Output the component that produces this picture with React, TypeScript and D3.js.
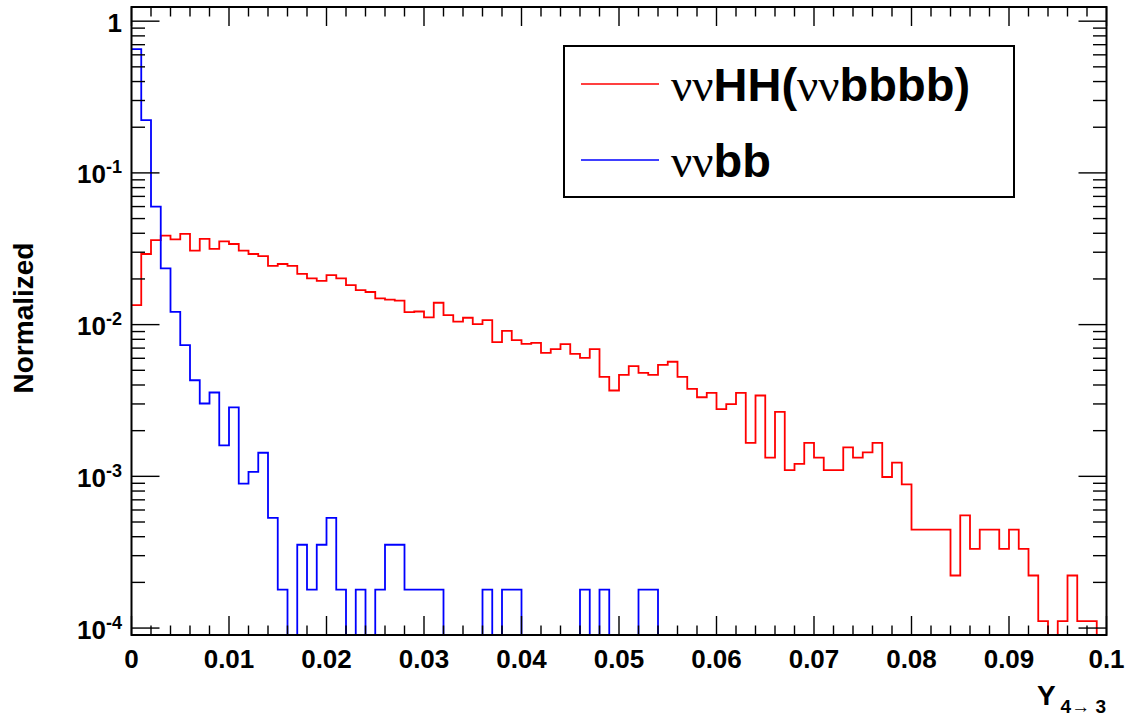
import React, { useEffect, useRef } from "react";
import * as d3 from "d3";

const width = 1133;
const height = 719;

// histogram binning
const nBins = 100;
const xMin = 0;
const xMax = 0.1;

// ννHH(ννbbbb), normalized bin contents
const signal = [
  0.01346, 0.0292, 0.0361, 0.0386, 0.0365, 0.0396, 0.0307, 0.0367, 0.0316, 0.0354,
  0.034, 0.0307, 0.0292, 0.0283, 0.0244, 0.0251, 0.0244, 0.0216, 0.0202, 0.0194,
  0.0212, 0.0202, 0.0182, 0.0169, 0.0164, 0.0149, 0.0146, 0.0144, 0.0121, 0.0122,
  0.01115, 0.01394, 0.01156, 0.01045, 0.0111, 0.01007, 0.0107, 0.00766, 0.0091, 0.0079,
  0.00747, 0.00759, 0.00652, 0.0069, 0.00743, 0.00641, 0.00604, 0.0069, 0.00453, 0.00368,
  0.00467, 0.00532, 0.00481, 0.00467, 0.00543, 0.00569, 0.00453, 0.00377, 0.00332, 0.00355,
  0.00277, 0.00299, 0.00355, 0.00166, 0.00341, 0.00133, 0.00266, 0.0011, 0.00121, 0.00166,
  0.00133, 0.0011, 0.0011, 0.00155, 0.00133, 0.00144, 0.00166, 0.00099, 0.00123, 0.000885,
  0.000445, 0.000445, 0.000445, 0.000445, 0.000222, 0.000553, 0.000333, 0.000445, 0.000445, 0.000333,
  0.000445, 0.000333, 0.000222, 0.000111, 0, 0.000111, 0.000222, 0.000111, 0.000111, 0,
];

// ννbb, normalized bin contents
const background = [
  0.655, 0.223, 0.06, 0.0235, 0.01215, 0.00733, 0.0043, 0.00302, 0.00357, 0.0016,
  0.00285, 0.000895, 0.00107, 0.00143, 0.000533, 0.000179, 0, 0.000354, 0.000179, 0.000354,
  0.000533, 0.000179, 0, 0.000179, 0, 0.000179, 0.000354, 0.000354, 0.000179, 0.000179,
  0.000179, 0.000179, 0, 0, 0, 0, 0.000179, 0, 0.000179, 0.000179,
  0, 0, 0, 0, 0, 0, 0.000179, 0, 0.000179, 0,
  0, 0, 0.000179, 0.000179, 0, 0, 0, 0, 0, 0,
  0, 0, 0, 0, 0, 0, 0, 0, 0, 0,
  0, 0, 0, 0, 0, 0, 0, 0, 0, 0,
  0, 0, 0, 0, 0, 0, 0, 0, 0, 0,
  0, 0, 0, 0, 0, 0, 0, 0, 0, 0,
];

const xMajorTicks = [0, 0.01, 0.02, 0.03, 0.04, 0.05, 0.06, 0.07, 0.08, 0.09, 0.1];
const xTickLabels = ["0", "0.01", "0.02", "0.03", "0.04", "0.05", "0.06", "0.07", "0.08", "0.09", "0.1"];
const yDecades = [-4, -3, -2, -1, 0];
const yMin = 0.9e-4;
const yMax = 1.24;

const legendEntries = [
  { nu: "νν", rest: "HH(", nu2: "νν", rest2: "bbbb)", color: "#ff0000" },
  { nu: "νν", rest: "bb", nu2: "", rest2: "", color: "#0000ff" },
];

const sans = "'Liberation Sans', Arial, Helvetica, sans-serif";
const serif = "'Liberation Serif', 'Times New Roman', serif";

function App() {
  const ref = useRef(null);

  useEffect(() => {
    const svg = d3.select(ref.current);
    svg.selectAll("*").remove();

    const left = 131.5, right = 1106.5, top = 7, bottom = 635;
    const x = d3.scaleLinear().domain([xMin, xMax]).range([left, right]);
    const y = d3.scaleLog().domain([yMin, yMax]).range([bottom, top]);

    svg.append("rect").attr("width", width).attr("height", height).attr("fill", "white");

    // histograms
    const binWidth = (xMax - xMin) / nBins;
    const line = d3.line()
      .x(d => x(d[0]))
      .y(d => y(Math.max(d[1], yMin)))
      .curve(d3.curveStepAfter);
    const histPoints = (vals) => {
      const pts = vals.map((v, i) => [xMin + i * binWidth, v]);
      pts.push([xMax, vals[vals.length - 1]]);
      return pts;
    };
    svg.append("path")
      .attr("d", line(histPoints(signal)))
      .attr("fill", "none")
      .attr("stroke", "#ff0000")
      .attr("stroke-width", 1.8);
    svg.append("path")
      .attr("d", line(histPoints(background)))
      .attr("fill", "none")
      .attr("stroke", "#0000ff")
      .attr("stroke-width", 1.8);

    // ticks
    const ticks = svg.append("g").attr("stroke", "black").attr("stroke-width", 1.4);
    const xMinor = d3.range(0, 51).map(i => i * 0.002);
    xMinor.forEach(v => {
      const major = Math.abs(v * 100 - Math.round(v * 100)) < 1e-6;
      const len = major ? 19 : 9.5;
      ticks.append("line").attr("x1", x(v)).attr("x2", x(v)).attr("y1", bottom).attr("y2", bottom - len);
      ticks.append("line").attr("x1", x(v)).attr("x2", x(v)).attr("y1", top).attr("y2", top + len);
    });
    const yTicks = [];
    for (let e = -5; e <= 0; e++) {
      for (let k = 1; k <= 9; k++) {
        const v = k * Math.pow(10, e);
        if (v >= yMin * 0.999 && v <= yMax) yTicks.push({ v, major: k === 1 });
      }
    }
    yTicks.forEach(t => {
      const len = t.major ? 28 : 13.5;
      ticks.append("line").attr("x1", left).attr("x2", left + len).attr("y1", y(t.v)).attr("y2", y(t.v));
      ticks.append("line").attr("x1", right).attr("x2", right - len).attr("y1", y(t.v)).attr("y2", y(t.v));
    });

    // frame
    svg.append("rect")
      .attr("x", left).attr("y", top)
      .attr("width", right - left).attr("height", bottom - top)
      .attr("fill", "none").attr("stroke", "black").attr("stroke-width", 2);

    // x labels
    svg.append("g").selectAll("text")
      .data(xMajorTicks)
      .join("text")
        .attr("x", d => x(d))
        .attr("y", 668)
        .attr("text-anchor", "middle")
        .attr("font-family", sans)
        .attr("font-weight", "bold")
        .attr("font-size", 26)
        .text((d, i) => xTickLabels[i]);

    // y labels
    const yl = svg.append("g")
      .attr("font-family", sans)
      .attr("font-weight", "bold")
      .selectAll("text")
      .data(yDecades)
      .join("text")
        .attr("x", 122)
        .attr("y", d => y(Math.pow(10, d)) + 10.5)
        .attr("text-anchor", "end")
        .attr("font-size", 26);
    yl.each(function (d) {
      const t = d3.select(this);
      if (d === 0) {
        t.text("1");
      } else {
        t.append("tspan").text("10");
        t.append("tspan").attr("dy", -10).attr("font-size", 18).text(String(d));
      }
    });

    // axis titles
    const xt = svg.append("text")
      .attr("x", 1106)
      .attr("y", 705)
      .attr("text-anchor", "end")
      .attr("font-family", sans)
      .attr("font-weight", "bold")
      .attr("font-size", 28);
    xt.append("tspan").text("Y");
    xt.append("tspan").attr("dy", 8).attr("dx", 5).attr("font-size", 19).text("4→ 3");

    svg.append("text")
      .attr("transform", "translate(33,318) rotate(-90)")
      .attr("text-anchor", "middle")
      .attr("font-family", sans)
      .attr("font-weight", "bold")
      .attr("font-size", 28)
      .text("Normalized");

    // legend
    const lg = svg.append("g");
    lg.append("rect")
      .attr("x", 564).attr("y", 46)
      .attr("width", 1014 - 564).attr("height", 197 - 46)
      .attr("fill", "white").attr("stroke", "black").attr("stroke-width", 2);
    legendEntries.forEach((entry, i) => {
      const cy = 84 + i * 76;
      lg.append("line")
        .attr("x1", 581).attr("x2", 659)
        .attr("y1", cy).attr("y2", cy)
        .attr("stroke", entry.color).attr("stroke-width", 1.5);
      const t = lg.append("text")
        .attr("x", 671)
        .attr("y", cy + 17)
        .attr("font-size", 47);
      t.append("tspan").attr("font-family", serif).text(entry.nu);
      t.append("tspan").attr("font-family", sans).attr("font-weight", "bold").text(entry.rest);
      if (entry.nu2) {
        t.append("tspan").attr("font-family", serif).text(entry.nu2);
        t.append("tspan").attr("font-family", sans).attr("font-weight", "bold").text(entry.rest2);
      }
    });
  }, []);

  return (
    <svg
      ref={ref}
      width={width}
      height={height}
      style={{ position: "absolute", left: 0, top: 0 }}
    />
  );
}

export default App;
